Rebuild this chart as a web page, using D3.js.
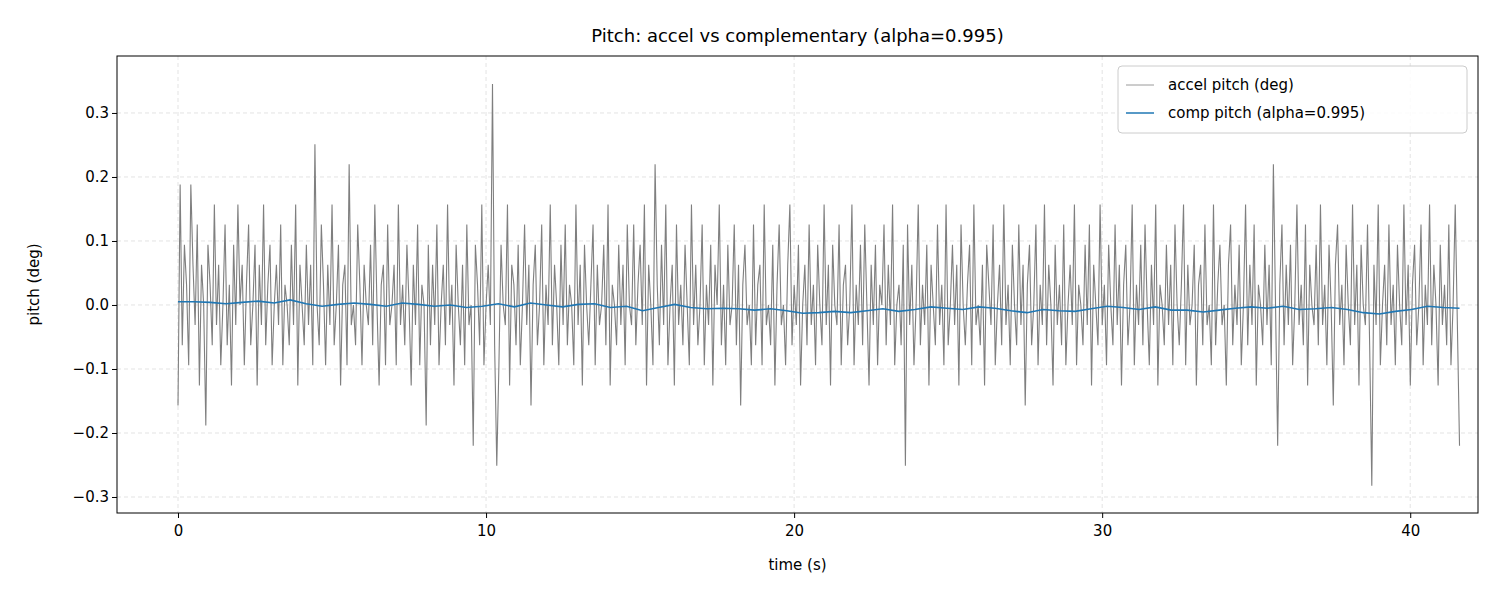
<!DOCTYPE html>
<html><head><meta charset="utf-8">
<script src="https://cdn.jsdelivr.net/npm/d3@7"></script>
<style>body{margin:0;background:#fff}svg{font-family:"DejaVu Sans",sans-serif}</style>
</head><body><svg id="c" width="1500" height="600"></svg>
<script>
const tEnd = 41.6;
const step = 0.0314;
// accel pitch in quantization steps
const accelLevels = [
-5,6,-2,3,1,-3,6,2,-1,4,-4,2,0,-6,3,1,-2,5,-1,2,-3,0,4,-2,1,-4,3,-1,5,0,
2,-3,1,4,-2,0,3,-4,2,-1,5,-2,1,3,-3,0,2,-1,4,-3,1,0,-2,3,-1,5,-4,2,0,-2,
3,-1,2,-3,8,0,-2,4,1,-3,2,-1,5,-2,0,3,-4,1,2,-3,7,-1,0,-2,4,1,-3,2,0,-1,
3,-2,5,0,-4,1,2,-3,4,-1,0,2,-3,5,-1,1,-2,3,0,-4,2,-1,4,-3,1,0,-6,3,-2,2,
-1,4,-3,0,2,-2,5,-1,1,-4,3,0,-2,2,-3,4,-1,0,-7,3,1,-2,5,-3,0,2,-1,11,-2,-8,
-3,3,0,-1,5,-4,2,1,-2,3,-3,0,4,-1,2,-5,1,3,-2,0,4,-3,1,-1,5,-2,2,0,-3,3,
-1,4,-2,1,0,-3,5,-1,2,-4,3,0,-2,1,4,-3,2,-1,0,3,-2,5,-4,1,0,-2,3,-1,2,-3,
4,0,-1,4,-2,1,3,-1,5,-4,2,0,-3,7,1,-2,3,-1,5,-3,0,2,-4,4,-1,1,-2,3,0,-3,
5,-1,2,-2,0,4,-3,1,-1,3,-4,2,0,5,-2,1,-3,3,-1,0,4,-2,2,-5,1,3,-1,0,-3,4,
-2,1,2,-3,5,-1,0,-2,3,-4,1,4,-1,0,-3,2,5,-2,1,-1,3,-4,0,2,-2,4,-1,1,-3,3,
0,-2,5,-1,2,-4,3,0,-1,4,-3,1,2,-2,0,5,-3,1,-1,3,-2,4,0,-4,2,-1,3,-3,1,0,
4,-2,2,-1,5,-3,0,1,-2,3,-8,4,-1,2,-3,0,5,-2,1,-1,3,-4,2,0,-2,4,-1,1,-3,5,
-2,0,3,-1,2,-4,4,0,-2,1,3,-3,5,-1,0,-2,2,-4,3,1,-1,4,-3,0,2,-2,5,-1,1,-3,
3,0,-2,4,-1,2,-5,1,3,-2,0,4,-3,1,-1,5,-2,2,0,-4,3,-1,1,-2,4,-3,0,2,-1,5,
-3,1,0,-2,3,-1,4,-4,2,0,-2,5,-1,1,-3,3,0,-2,4,-1,2,-4,1,3,-2,0,5,-3,1,-1,
3,-2,4,0,-3,2,-1,5,-4,1,0,-2,3,-1,2,-3,4,0,-2,1,5,-3,2,-1,0,3,-4,1,2,-2,
4,-1,0,-3,5,-2,1,3,-1,0,-4,2,4,-2,1,-1,3,-3,0,5,-2,2,-1,4,-4,1,0,-2,3,-1,
2,-3,7,0,-7,1,4,-2,2,-1,3,-3,0,5,-1,1,-2,4,-4,2,0,-1,3,-2,5,-1,1,-3,3,0,
-5,2,4,-1,1,-3,3,0,-2,5,-1,2,-4,3,0,-1,4,-2,-9,2,-1,5,-3,0,2,-2,4,-1,1,-3,
3,0,-2,5,-1,2,-4,1,3,-2,0,4,-3,1,-1,5,-2,2,0,-4,3,-1,1,-2,4,-3,0,5,-1,-7
];
// complementary pitch (deg), sampled every ~0.52 s
const compVals = [0.005,0.005,0.004,0.002,0.004,0.006,0.003,0.008,0.002,-0.002,0.001,0.003,0.001,-0.002,0.003,0.001,-0.002,0,-0.004,-0.002,0.002,-0.003,0.003,0,-0.003,0.001,0.002,-0.004,-0.002,-0.009,-0.004,0.001,-0.004,-0.006,-0.005,-0.006,-0.008,-0.006,-0.009,-0.013,-0.012,-0.010,-0.012,-0.009,-0.006,-0.010,-0.007,-0.003,-0.005,-0.007,-0.003,-0.005,-0.009,-0.012,-0.007,-0.009,-0.010,-0.006,-0.002,-0.004,-0.007,-0.003,-0.008,-0.008,-0.011,-0.008,-0.005,-0.003,-0.005,-0.002,-0.007,-0.006,-0.004,-0.007,-0.012,-0.014,-0.010,-0.007,-0.002,-0.004,-0.005];
const xTicks = [0,10,20,30,40];
const yTicks = [-0.3,-0.2,-0.1,0.0,0.1,0.2,0.3];

const svg = d3.select("#c");
const L=117,R=1478,T=56,B=513;
const x = d3.scaleLinear().domain([-1.98,42.2]).range([L,R]);
const y = d3.scaleLinear().domain([-0.325,0.389]).range([B,T]);
const accel = accelLevels.map((v,i)=>[i*tEnd/(accelLevels.length-1), v*step]);
const comp = compVals.map((v,i)=>[i*tEnd/(compVals.length-1), v]);

const g = svg.append("g");
xTicks.forEach(t=>g.append("line").attr("x1",x(t)).attr("x2",x(t)).attr("y1",T).attr("y2",B).attr("stroke","#e3e3e3").attr("stroke-dasharray","4,3"));
yTicks.forEach(t=>g.append("line").attr("y1",y(t)).attr("y2",y(t)).attr("x1",L).attr("x2",R).attr("stroke","#e3e3e3").attr("stroke-dasharray","4,3"));
const line = d3.line().x(d=>x(d[0])).y(d=>y(d[1]));
g.append("path").datum(accel).attr("d",line).attr("fill","none").attr("stroke","#7f7f7f").attr("stroke-width",1.1);
g.append("path").datum(comp).attr("d",line).attr("fill","none").attr("stroke","#1f77b4").attr("stroke-width",1.6);
svg.append("rect").attr("x",L).attr("y",T).attr("width",R-L).attr("height",B-T).attr("fill","none").attr("stroke","#000");

const fmt = v => (v<0?"\u2212":"")+Math.abs(v).toFixed(1);
svg.append("g").attr("transform",`translate(0,${B})`).call(d3.axisBottom(x).tickValues(xTicks).tickSize(5).tickFormat(d3.format("d")))
 .call(a=>{a.select(".domain").remove();a.selectAll("text").attr("font-size",15).attr("font-family","DejaVu Sans").attr("fill","#000").attr("dy","1em");});
svg.append("g").attr("transform",`translate(${L},0)`).call(d3.axisLeft(y).tickValues(yTicks).tickSize(5).tickFormat(fmt))
 .call(a=>{a.select(".domain").remove();a.selectAll("text").attr("font-size",15).attr("font-family","DejaVu Sans").attr("fill","#000");});

svg.append("text").attr("x",(L+R)/2).attr("y",42).attr("text-anchor","middle").attr("font-size",18).text("Pitch: accel vs complementary (alpha=0.995)");
svg.append("text").attr("x",(L+R)/2).attr("y",570).attr("text-anchor","middle").attr("font-size",15).text("time (s)");
svg.append("text").attr("transform",`translate(39,${(T+B)/2}) rotate(-90)`).attr("text-anchor","middle").attr("font-size",15).text("pitch (deg)");

const lg = svg.append("g").attr("transform","translate(1118,66)");
lg.append("rect").attr("width",349).attr("height",67).attr("rx",4).attr("fill","#fff").attr("fill-opacity",0.85).attr("stroke","#ccc");
[["accel pitch (deg)","#808080",0.8],["comp pitch (alpha=0.995)","#1f77b4",1.5]].forEach((d,i)=>{
 lg.append("line").attr("x1",8).attr("x2",36).attr("y1",19+i*28).attr("y2",19+i*28).attr("stroke",d[1]).attr("stroke-width",d[2]);
 lg.append("text").attr("x",50).attr("y",24+i*28).attr("font-size",15).text(d[0]);
});
</script></body></html>
